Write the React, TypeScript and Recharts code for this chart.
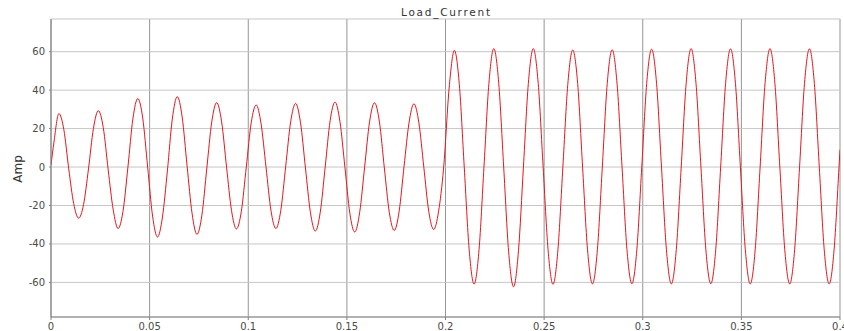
import React from 'react';
import { LineChart, Line, XAxis, YAxis, CartesianGrid } from 'recharts';

const title = 'Load_Current';
const yLabel = 'Amp';
const xTicks = [0, 0.05, 0.1, 0.15, 0.2, 0.25, 0.3, 0.35, 0.4];
const yTicks = [-60, -40, -20, 0, 20, 40, 60];

const time = [
  0,
  0.0015, 0.004, 0.0065, 0.009, 0.0115, 0.014, 0.0165, 0.019,
  0.0215, 0.024, 0.0265, 0.029, 0.0315, 0.034, 0.0365, 0.039,
  0.0415, 0.044, 0.0465, 0.049, 0.0515, 0.054, 0.0565, 0.059,
  0.0615, 0.064, 0.0665, 0.069, 0.0715, 0.074, 0.0765, 0.079,
  0.0815, 0.084, 0.0865, 0.089, 0.0915, 0.094, 0.0965, 0.099,
  0.1015, 0.104, 0.1065, 0.109, 0.1115, 0.114, 0.1165, 0.119,
  0.1215, 0.124, 0.1265, 0.129, 0.1315, 0.134, 0.1365, 0.139,
  0.1415, 0.144, 0.1465, 0.149, 0.1515, 0.154, 0.1565, 0.159,
  0.1615, 0.164, 0.1665, 0.169, 0.1715, 0.174, 0.1765, 0.179,
  0.1815, 0.184, 0.1865, 0.189, 0.1915, 0.194, 0.1965, 0.199,
  0.202, 0.2045, 0.207, 0.2095, 0.212, 0.2145, 0.217, 0.2195,
  0.222, 0.2245, 0.227, 0.2295, 0.232, 0.2345, 0.237, 0.2395,
  0.242, 0.2445, 0.247, 0.2495, 0.252, 0.2545, 0.257, 0.2595,
  0.262, 0.2645, 0.267, 0.2695, 0.272, 0.2745, 0.277, 0.2795,
  0.282, 0.2845, 0.287, 0.2895, 0.292, 0.2945, 0.297, 0.2995,
  0.302, 0.3045, 0.307, 0.3095, 0.312, 0.3145, 0.317, 0.3195,
  0.322, 0.3245, 0.327, 0.3295, 0.332, 0.3345, 0.337, 0.3395,
  0.342, 0.3445, 0.347, 0.3495, 0.352, 0.3545, 0.357, 0.3595,
  0.362, 0.3645, 0.367, 0.3695, 0.372, 0.3745, 0.377, 0.3795,
  0.382, 0.3845, 0.387, 0.3895, 0.392, 0.3945, 0.397, 0.3995,
  0.4,
];

const current = [
  1,
  13, 27.8, 19.5, -1, -19, -26.6, -19.5, -1,
  20, 29.3, 20.5, -1.5, -22, -32, -23, 0,
  25, 35.6, 25.5, 0, -25.5, -36.4, -26, -2,
  25, 36.6, 26, 0.5, -24, -35, -25, -0.5,
  23.5, 33.5, 23.5, 0, -22.5, -32.2, -23, 0,
  23, 32.3, 22.5, 0, -22.5, -32, -22.5, 0.5,
  23.5, 33.1, 23, -0.5, -23.5, -33.3, -23.5, 0,
  24, 33.8, 23.5, 0, -24, -33.8, -23.5, 0,
  23.5, 33.4, 23.5, -0.5, -23.5, -33, -23, 0.5,
  23, 32.9, 23, 0, -23, -32.5, -23, -1,
  43, 60.7, 43, 0, -43, -60.9, -43, 0,
  43.5, 61.6, 43.5, 0, -44, -62.3, -43.5, 0,
  43.5, 61.6, 43.5, 0, -43, -61, -43, 0,
  43, 60.9, 43.5, 0, -43, -60.8, -43, 0,
  43.5, 61, 43, 0, -43, -60.7, -43, 0,
  43.5, 61.3, 43.5, 0, -43, -60.8, -43, 0,
  43.5, 61.6, 43.5, 0, -43, -60.7, -43, 0,
  43.5, 61.5, 43.5, 0, -43, -60.8, -43, 0,
  43.5, 61.6, 43.5, 0, -43, -60.8, -43, 0,
  43.5, 61.5, 43.5, 0, -43, -60.8, -43, 0,
  9,
];

const data = time.map((t, i) => ({ t, amp: current[i] }));

const FONT = 'DejaVu Sans, sans-serif';
const tickStyle = { fontSize: 10, fill: '#4a4a4a', fontFamily: FONT };

export default function App() {
  return (
    <div style={{ position: 'absolute', left: 0, top: 0, width: 844, height: 331, background: '#fff' }}>
      <LineChart width={844} height={331} data={data} margin={{ top: 19, right: 4, bottom: 0, left: 0 }}>
        <CartesianGrid xAxisId="b" yAxisId="l" horizontal={false} stroke="#959595" />
        <CartesianGrid xAxisId="b" yAxisId="l" vertical={false} stroke="#c6c6c6" />
        <XAxis
          xAxisId="b"
          dataKey="t"
          type="number"
          domain={[0, 0.4]}
          ticks={xTicks}
          interval={0}
          allowDataOverflow
          height={14}
          tickSize={3}
          tickMargin={3}
          stroke="#808080"
          tick={tickStyle}
        />
        <XAxis
          xAxisId="t"
          orientation="top"
          dataKey="t"
          type="number"
          domain={[0, 0.4]}
          ticks={xTicks}
          height={0}
          tick={false}
          tickLine={false}
          stroke="#8a8a8a"
        />
        <YAxis
          yAxisId="l"
          type="number"
          domain={[-78, 77]}
          ticks={yTicks}
          interval={0}
          allowDataOverflow
          width={51}
          tickSize={2}
          tickMargin={4}
          stroke="#808080"
          tick={tickStyle}
        />
        <YAxis
          yAxisId="r"
          orientation="right"
          type="number"
          domain={[-78, 77]}
          ticks={yTicks}
          width={0}
          tick={false}
          tickLine={false}
          stroke="#8a8a8a"
        />
        <Line
          xAxisId="b"
          yAxisId="l"
          dataKey="amp"
          type="monotone"
          stroke="#e5161d"
          strokeWidth={1}
          dot={false}
          isAnimationActive={false}
        />
      </LineChart>
      <svg width={844} height={331} style={{ position: 'absolute', left: 0, top: 0, pointerEvents: 'none' }}>
        <text x={445.5} y={15.5} textAnchor="middle" fontSize={10.5} fontFamily={FONT} fill="#333" textLength={89} lengthAdjust="spacing">
          {title}
        </text>
        <text
          x={0}
          y={0}
          transform="translate(21.5,169) rotate(-90)"
          textAnchor="middle"
          fontSize={12}
          fontFamily={FONT}
          fill="#333"
        >
          {yLabel}
        </text>
      </svg>
    </div>
  );
}
